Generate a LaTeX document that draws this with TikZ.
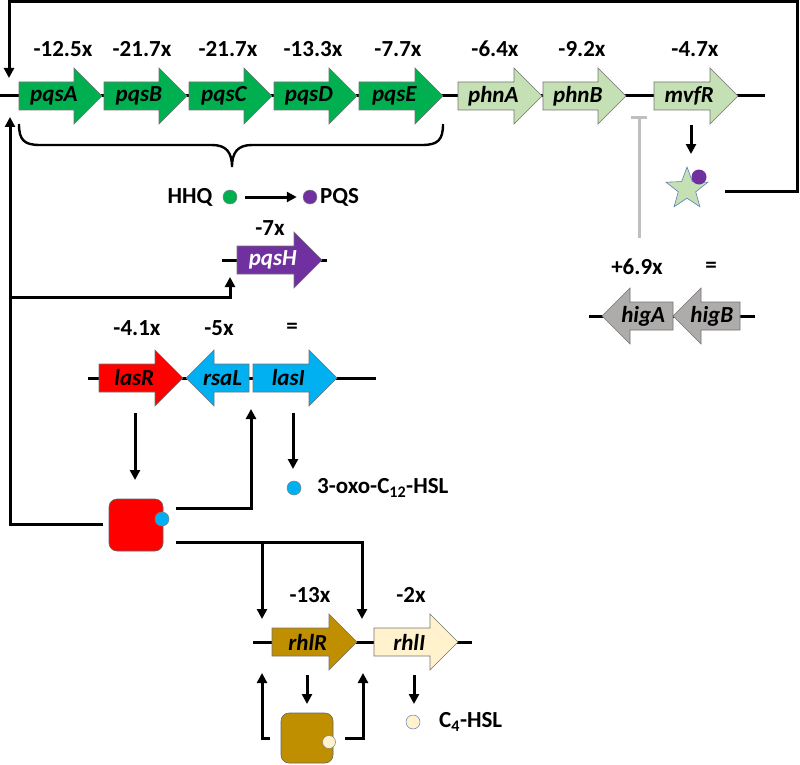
\documentclass[tikz,border=0pt]{standalone}
\usepackage{fontspec}
\setmainfont{Carlito}
\usetikzlibrary{arrows.meta,shapes.geometric}
\definecolor{dkgreen}{HTML}{00B050}
\definecolor{ltgreen}{HTML}{C5E0B4}
\definecolor{qpurple}{HTML}{7030A0}
\definecolor{qred}{HTML}{FF0000}
\definecolor{qblue}{HTML}{00B0F0}
\definecolor{qbrown}{HTML}{BF8F00}
\definecolor{qcream}{HTML}{FFF2CC}
\definecolor{qgray}{HTML}{AEABAB}
\definecolor{inhgray}{HTML}{BFBFBF}
\definecolor{starbd}{HTML}{5B7FB5}
\tikzset{
  genebd/.style={draw=black!55, line width=0.6pt},
  genetext/.style={font=\fontsize{23}{26}\selectfont\bfseries\itshape, inner sep=0pt},
  lbl/.style={font=\fontsize{23}{26}\selectfont\bfseries, inner sep=0pt},
  track/.style={line width=3pt},
  conn/.style={line width=3pt, -{Triangle[length=10pt,width=10pt]}},
  dot/.style={circle, draw=black!50, line width=0.5pt, minimum size=14pt, inner sep=0pt},
  protbox/.style={rounded corners=8pt, draw=black!60, line width=0.6pt, inner sep=0pt},
}
\newcommand\rgene[7]{%
  \filldraw[genebd,fill=#5] (#2,#4-14) -- (#3-28,#4-14) -- (#3-28,#4-28) -- (#3,#4) -- (#3-28,#4+28) -- (#3-28,#4+14) -- (#2,#4+14) -- cycle;
  \node[genetext,text=#6] (#1) at ({#2+0.42*(#3-#2)},#4) {#7};
}
\newcommand\lgene[7]{%
  \filldraw[genebd,fill=#5] (#2,#4) -- (#2+28,#4-28) -- (#2+28,#4-14) -- (#3,#4-14) -- (#3,#4+14) -- (#2+28,#4+14) -- (#2+28,#4+28) -- cycle;
  \node[genetext,text=#6] (#1) at ({#2+0.58*(#3-#2)},#4) {#7};
}
\begin{document}
\begin{tikzpicture}[x=1pt,y=-1pt]
\useasboundingbox (0,0) rectangle (800,765);
% tracks
\draw[track] (0,96) -- (765,96);
\draw[track] (222,260) -- (327,260);
\draw[track] (88,378) -- (376,378);
\draw[track] (589,316) -- (755,316);
\draw[track] (253,642) -- (472,642);
% genes
\rgene{pqsA}{19}{102}{96}{dkgreen}{black}{pqsA}
\rgene{pqsB}{104}{187}{96}{dkgreen}{black}{pqsB}
\rgene{pqsC}{189}{272}{96}{dkgreen}{black}{pqsC}
\rgene{pqsD}{274}{357}{96}{dkgreen}{black}{pqsD}
\rgene{pqsE}{359}{443}{96}{dkgreen}{black}{pqsE}
\rgene{phnA}{458}{542}{96}{ltgreen}{black}{phnA}
\rgene{phnB}{543}{626}{96}{ltgreen}{black}{phnB}
\rgene{mvfR}{654}{738}{96}{ltgreen}{black}{mvfR}
\rgene{pqsH}{237}{322}{260}{qpurple}{white}{pqsH}
\rgene{lasR}{99}{183}{378}{qred}{black}{lasR}
\lgene{rsaL}{186}{249}{378}{qblue}{black}{rsaL}
\rgene{lasI}{253}{337}{378}{qblue}{black}{lasI}
\lgene{higA}{602}{673}{316}{qgray}{black}{higA}
\lgene{higB}{673}{740}{316}{qgray}{black}{higB}
\rgene{rhlR}{272}{357}{642}{qbrown}{black}{rhlR}
\rgene{rhlI}{374}{458}{642}{qcream}{black}{rhlI}
% fold-change labels
\node[lbl] (fA) at (63,49) {-12.5x};
\node[lbl] (fB) at (142,49) {-21.7x};
\node[lbl] (fC) at (228,49) {-21.7x};
\node[lbl] (fD) at (313,49) {-13.3x};
\node[lbl] (fE) at (398,49) {-7.7x};
\node[lbl] (fphnA) at (495,49) {-6.4x};
\node[lbl] (fphnB) at (582,49) {-9.2x};
\node[lbl] (fmvfR) at (695,49) {-4.7x};
\node[lbl] (fpqsH) at (270,228) {-7x};
\node[lbl] (flasR) at (137,328) {-4.1x};
\node[lbl] (frsaL) at (219,328) {-5x};
\node[lbl] (flasI) at (292,328) {=};
\node[lbl] (fhigA) at (637,267) {+6.9x};
\node[lbl] (fhigB) at (711,267) {=};
\node[lbl] (frhlR) at (310,595) {-13x};
\node[lbl] (frhlI) at (411,595) {-2x};
% brace
\draw[line width=2.4pt] (19,124) .. controls (19,140) and (24,145) .. (40,145) -- (212,145) .. controls (226,145) and (232,152) .. (232,167) .. controls (232,152) and (238,145) .. (252,145) -- (422,145) .. controls (438,145) and (443,140) .. (443,124);
% HHQ -> PQS
\node[lbl] (HHQt) at (190,197) {HHQ};
\node[dot, fill=dkgreen] (HHQ) at (230,197) {};
\node[dot, fill=qpurple] (PQS) at (310,197) {};
\node[lbl, anchor=west] (PQSt) at (320,197) {PQS};
\draw[conn] ([xshift=8pt]HHQ.east) -- ([xshift=-6pt]PQS.west);
% MvfR-PQS complex
\node[star, star points=5, star point ratio=2.4, minimum size=44pt, inner sep=0pt, fill=ltgreen, draw=starbd, line width=0.6pt] (MvfRp) at (687,189) {};
\node[circle, fill=qpurple, minimum size=15pt, inner sep=0pt] (MvfRpqs) at (699,177) {};
\coordinate (mvfRout) at (691,125);
\coordinate (mvfRin) at (691,154);
\draw[conn] (mvfRout) -- (mvfRin);
\coordinate (fbstart) at (725,191);
\coordinate (fbcorner) at (797,2);
\coordinate (pqsAin) at (9,78);
\draw[conn] (fbstart) -| (fbcorner) -| (pqsAin);
% HigA inhibition
\coordinate (higtop) at (639,238);
\coordinate (phnBinh) at (639,116);
\draw[line width=3pt, draw=inhgray, -{Bar[width=16pt]}] (higtop) -- (phnBinh);
% LasR complex
\node[protbox, fill=qred, minimum width=54pt, minimum height=52pt] (LasRp) at (136,525) {};
\node[dot, fill=qblue] (LasRai) at (162,519) {};
\coordinate (lasRout) at (135,413);
\coordinate (lasRin) at (135,480);
\draw[conn] (lasRout) -- (lasRin);
\coordinate (lasIout) at (293,413);
\coordinate (lasIin) at (293,469);
\draw[conn] (lasIout) -- (lasIin);
\node[dot, fill=qblue] (oxo) at (294,488) {};
\node[lbl, anchor=west] (oxot) at (317,488) {3-oxo-C\textsubscript{12}-HSL};
\coordinate (pqsAbin) at (10,117);
\draw[conn] ([xshift=-6pt,yshift=1pt]LasRp.west) -| (pqsAbin);
\coordinate (br1) at (10,297);
\coordinate (pqsHin) at (230,277);
\draw[conn] (br1) -| (pqsHin);
\coordinate (rsaLin) at (251,409);
\draw[conn] ([xshift=13pt,yshift=17pt]LasRp.east) -| (rsaLin);
\coordinate (rhlIin) at (362,619);
\draw[conn] ([xshift=13pt,yshift=-17pt]LasRp.east) -| (rhlIin);
\coordinate (br2) at (262,542);
\coordinate (rhlRin) at (262,619);
\draw[conn] (br2) -- (rhlRin);
% RhlR complex
\node[protbox, fill=qbrown, minimum width=52pt, minimum height=50pt] (RhlRp) at (307,738) {};
\node[dot, fill=qcream, minimum size=13pt] (RhlRai) at (329,742) {};
\coordinate (rhlRout) at (307,675);
\coordinate (rhlRpin) at (307,704);
\draw[conn] (rhlRout) -- (rhlRpin);
\coordinate (rhlRin2) at (262,673);
\draw[conn] ([xshift=-11pt]RhlRp.west) -| (rhlRin2);
\coordinate (rhlIin2) at (363,673);
\draw[conn] ([xshift=12pt]RhlRp.east) -| (rhlIin2);
\coordinate (rhlIout) at (414,675);
\coordinate (rhlIpin) at (414,704);
\draw[conn] (rhlIout) -- (rhlIpin);
\node[dot, fill=qcream, draw=starbd] (C4) at (413,722) {};
\node[lbl, anchor=west] (C4t) at (439,722) {C\textsubscript{4}-HSL};
\end{tikzpicture}
\end{document}
